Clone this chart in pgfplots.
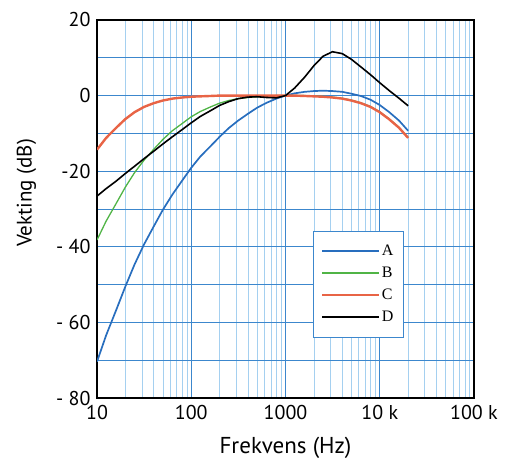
\documentclass[border=0pt]{standalone}
\usepackage{pgfplots}
\pgfplotsset{compat=1.18}
\usepackage{fontspec}
\setmainfont{PT Sans}
\newfontfamily\legfont{Liberation Serif}

\definecolor{gridblue}{RGB}{60,135,205}
\definecolor{minorblue}{RGB}{165,208,240}
\definecolor{cA}{RGB}{40,110,190}
\definecolor{cB}{RGB}{80,180,70}
\definecolor{cC}{RGB}{232,100,70}

\pgfplotstableread{
f A B C D
10 -70.4 -38.2 -14.3 -26.6
12.5 -63.4 -33.2 -11.2 -24.6
16 -56.7 -28.5 -8.5 -22.6
20 -50.5 -24.2 -6.2 -20.6
25 -44.7 -20.4 -4.4 -18.7
31.5 -39.4 -17.1 -3.0 -16.7
40 -34.6 -14.2 -2.0 -14.7
50 -30.2 -11.6 -1.3 -12.8
63 -26.2 -9.3 -0.8 -10.9
80 -22.5 -7.4 -0.5 -9.0
100 -19.1 -5.6 -0.3 -7.2
125 -16.1 -4.2 -0.2 -5.5
160 -13.4 -3.0 -0.1 -4.0
200 -10.9 -2.0 0 -2.6
250 -8.6 -1.3 0 -1.6
315 -6.6 -0.8 0 -0.8
400 -4.8 -0.5 0 -0.4
500 -3.2 -0.3 0 -0.3
630 -1.9 -0.1 0 -0.5
800 -0.8 0 0 -0.6
1000 0 0 0 0
1250 0.6 0 0 2.0
1600 1.0 0 -0.1 4.9
2000 1.2 -0.1 -0.2 7.9
2500 1.3 -0.2 -0.3 10.4
3150 1.2 -0.4 -0.5 11.6
4000 1.0 -0.7 -0.8 11.1
5000 0.5 -1.2 -1.3 9.6
6300 -0.1 -1.9 -2.0 7.6
8000 -1.1 -2.9 -3.0 5.5
10000 -2.5 -4.3 -4.4 3.4
12500 -4.3 -6.1 -6.2 1.4
16000 -6.6 -8.4 -8.5 -0.7
20000 -9.3 -11.1 -11.2 -2.7
}\wdata

\begin{document}
\begin{tikzpicture}
\begin{axis}[
  name=ax,
  xmode=log,
  scale only axis,
  width=377pt, height=378pt,
  xmin=10, xmax=100000,
  ymin=-80, ymax=20,
  xtick={10,100,1000,10000,100000},
  xticklabels={10,100,1000,10 k,100 k},
  minor xtick={20,30,40,50,60,70,80,90,200,300,400,500,600,700,800,900,
    2000,3000,4000,5000,6000,7000,8000,9000,20000,30000,40000,50000,60000,70000,80000,90000},
  ytick={-80,-60,-40,-20,0,20},
  yticklabels={- 80,- 60,- 40,-20,0,20},
  minor ytick={-70,-50,-30,-10,10},
  xmajorgrids, xminorgrids, ymajorgrids, yminorgrids,
  major grid style={gridblue, line width=0.8pt},
  minor x grid style={minorblue, line width=0.7pt},
  minor y grid style={gridblue, line width=0.8pt},
  major tick length=0pt, minor tick length=0pt,
  axis line style={black, line width=1.4pt},
  tick label style={font=\fontsize{20}{20}\selectfont},
  xticklabel style={yshift=-4pt},
  yticklabel style={xshift=-3pt},
  xlabel={Frekvens (Hz)},
  ylabel={Vekting (dB)},
  xlabel style={font=\fontsize{23}{23}\selectfont, yshift=-10pt},
  ylabel style={font=\fontsize{21}{21}\selectfont, xshift=16pt, yshift=13pt},
  legend style={at={(0.573,0.442)}, anchor=north west, draw=gridblue,
    font=\legfont\fontsize{16}{16}\selectfont, fill=white,
    row sep=6pt, inner xsep=8pt, inner ysep=12pt},
  legend cell align=left,
  legend image code/.code={\draw[#1, line width=1.8pt] (0cm,0.1pt) -- (2cm,0.1pt);},
  /pgf/number format/assume math mode=true,
]
\addplot[cA, line width=1.7pt] table[x=f, y=A] {\wdata};
\addplot[cB, line width=1.3pt] table[x=f, y=B] {\wdata};
\addplot[cC, line width=2.4pt] table[x=f, y=C] {\wdata};
\addplot[black, line width=1.6pt] table[x=f, y=D] {\wdata};
\legend{A,B,C,D}
\end{axis}
\pgfresetboundingbox
\path ([shift={(-97pt,-66pt)}]ax.south west) rectangle ([shift={(39pt,20pt)}]ax.north east);
\end{tikzpicture}
\end{document}
